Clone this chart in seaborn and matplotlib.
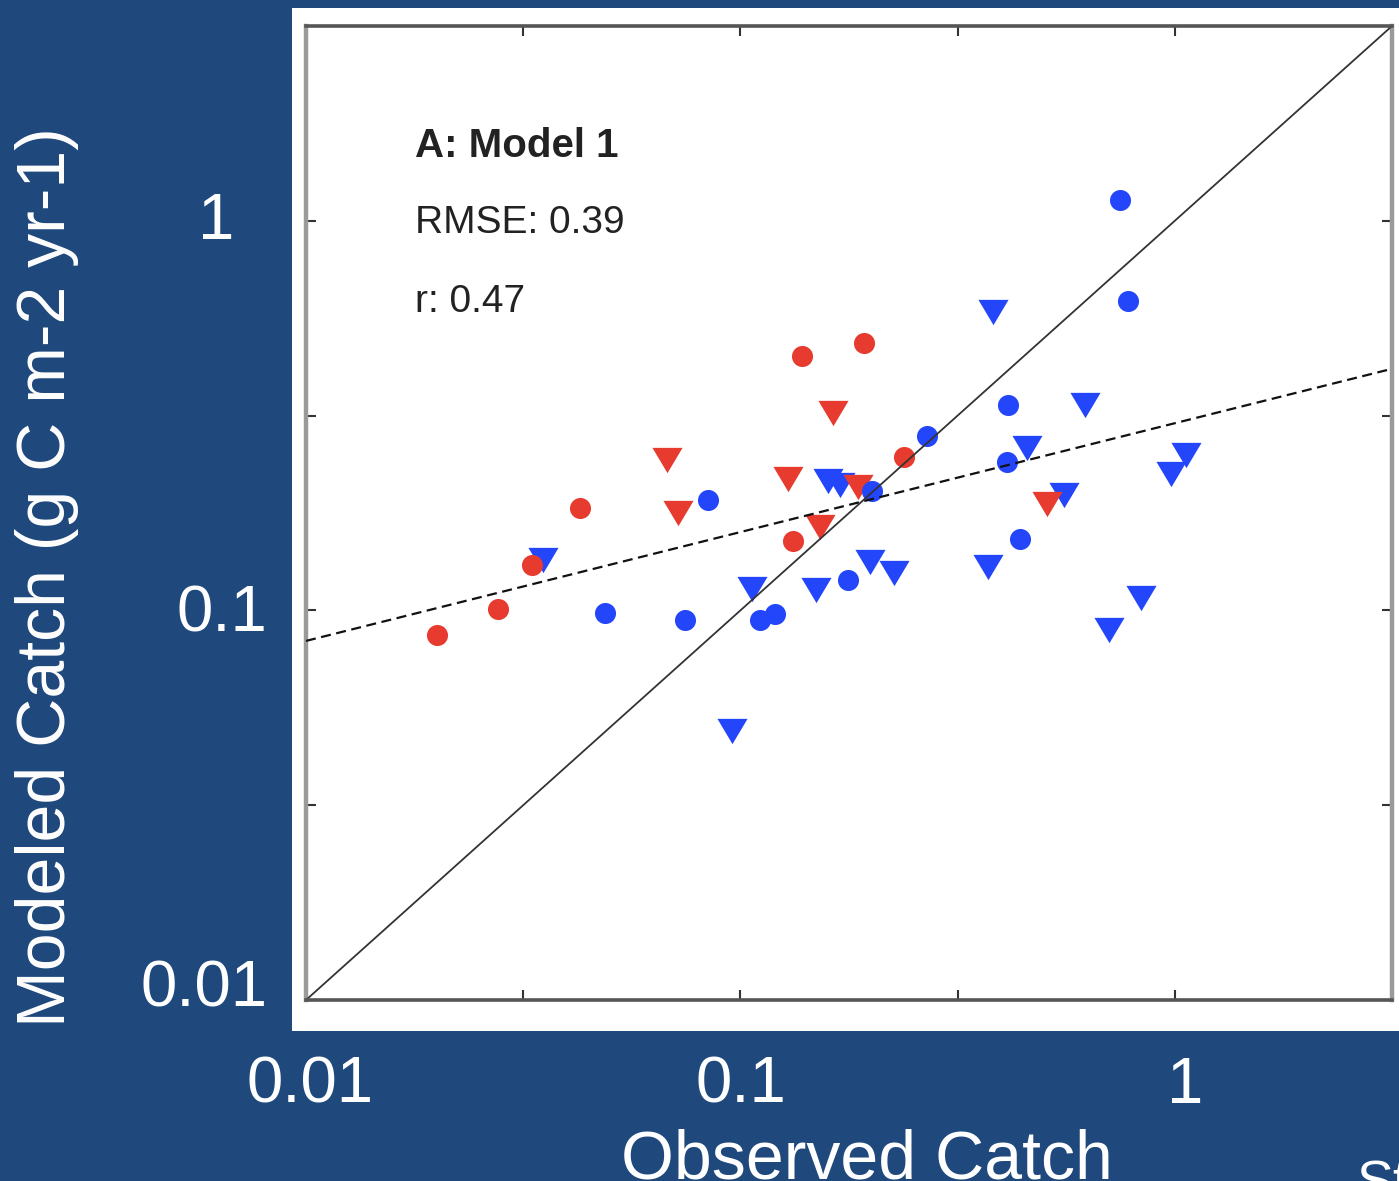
import numpy as np
import pandas as pd
import matplotlib
matplotlib.use("Agg")
import matplotlib.pyplot as plt
import matplotlib.transforms as mtransforms
import seaborn as sns
from matplotlib.patches import Rectangle
from matplotlib.ticker import FixedLocator, NullFormatter

# ---------------- data ----------------
red_circle_obs = [0.0200, 0.0277, 0.0331, 0.0427, 0.1322, 0.1386, 0.1925, 0.2379]
red_circle_mod = [0.0865, 0.1008, 0.1307, 0.1832, 0.1507, 0.4498, 0.4857, 0.2475]

red_tri_obs = [0.0678, 0.0719, 0.1287, 0.1633, 0.1525, 0.1865, 0.5078]
red_tri_mod = [0.2432, 0.1778, 0.2175, 0.3211, 0.1637, 0.2074, 0.1875]

blue_circle_obs = [0.0488, 0.0746, 0.0842, 0.1110, 0.1201, 0.1769, 0.2009,
                   0.2690, 0.4110, 0.4130, 0.4401, 0.7477, 0.7805]
blue_circle_mod = [0.0985, 0.0945, 0.1920, 0.0945, 0.0979, 0.1197, 0.2025,
                   0.2803, 0.2404, 0.3367, 0.1526, 1.131, 0.6224]

blue_tri_obs = [0.0351, 0.0957, 0.1063, 0.1493, 0.1591, 0.1696, 0.1988, 0.2258,
                0.3715, 0.3815, 0.4568, 0.5556, 0.6215, 0.7058, 0.8359, 0.9802, 1.061]
blue_tri_mod = [0.1347, 0.0490, 0.1135, 0.1128, 0.2149, 0.2099, 0.1331, 0.1247,
                0.1292, 0.5833, 0.2611, 0.1978, 0.3367, 0.0891, 0.1076, 0.2239, 0.2505]

one_to_one = [0.01, 10 ** 0.5]
fit_x = [0.01, 10 ** 0.5]
fit_y = [0.0835, 0.417]

tick_values = [0.01, 0.1, 1]
tick_labels = ["0.01", "0.1", "1"]
minor_values = [10 ** -1.5, 10 ** -0.5]

panel_title = "A: Model 1"
stats_lines = ["RMSE: 0.39", "r: 0.47"]
x_label = "Observed Catch"
y_label = "Modeled Catch (g C m-2 yr-1)"

# ---------------- style ----------------
sns.set_style("white")
plt.rcParams["font.family"] = ["Liberation Sans", "DejaVu Sans"]

BG = "#1f497d"
RED = "#e63b2e"
BLUE = "#2446fb"

W, H = 1399, 1181
fig = plt.figure(figsize=(W / 100, H / 100), dpi=100, facecolor=BG)

# white picture panel (behind the axes)
fig.patches.append(Rectangle((292 / W, 1 - 1031 / H), (W - 292) / W, (1031 - 8) / H,
                             transform=fig.transFigure, facecolor="white",
                             edgecolor="none", zorder=-5))

ax = fig.add_axes([306 / W, 1 - 1000 / H, 1086 / W, 974 / H])
ax.set_zorder(2)
ax.set_facecolor("white")

tri = [(-1, 0.84), (1, 0.84), (0, -0.84), (-1, 0.84)]

groups = [
    (blue_tri_obs, blue_tri_mod, BLUE, tri, 470),
    (red_tri_obs, red_tri_mod, RED, tri, 470),
    (red_circle_obs, red_circle_mod, RED, "o", 230),
    (blue_circle_obs, blue_circle_mod, BLUE, "o", 230),
]
for xs, ys, col, mk, sz in groups:
    df = pd.DataFrame({"obs": xs, "mod": ys})
    sns.scatterplot(data=df, x="obs", y="mod", color=col, marker=mk, s=sz,
                    linewidth=0, ax=ax, zorder=2)

ax.plot(one_to_one, one_to_one, color="#333333", lw=1.3, zorder=3)
ax.plot(fit_x, fit_y, color="#111111", lw=1.6, dashes=(4.5, 2.5), zorder=3)

ax.set_xscale("log")
ax.set_yscale("log")
ax.set_xlim(0.01, 10 ** 0.5)
ax.set_ylim(0.01, 10 ** 0.5)

for axis in (ax.xaxis, ax.yaxis):
    axis.set_major_locator(FixedLocator(tick_values))
    axis.set_minor_locator(FixedLocator(minor_values))
    axis.set_minor_formatter(NullFormatter())
ax.set_xticklabels(tick_labels)
ax.set_yticklabels(tick_labels)

ax.tick_params(which="both", direction="in", top=True, right=True,
               bottom=True, left=True,
               length=7, width=1.5, color="#333333",
               labelcolor="white", labelsize=47)
ax.tick_params(axis="x", which="major", pad=40)
ax.tick_params(axis="y", which="major", pad=28)

for side in ("left", "right"):
    ax.spines[side].set_color("#9a9a9a")
    ax.spines[side].set_linewidth(3.2)
for side in ("top", "bottom"):
    ax.spines[side].set_color("#555555")
    ax.spines[side].set_linewidth(2.6)
    ax.spines[side].set_zorder(4)

# small nudges of individual slide labels (pixels: dx, dy; +dy = up)
x_nudge = [(4, 0), (0, 0), (10, 0)]
y_nudge = [(0, 17), (0, 2), (-33, 5)]
for tick, (dx, dy) in zip(ax.xaxis.get_major_ticks(), x_nudge):
    lab = tick.label1
    lab.set_transform(lab.get_transform() +
                      mtransforms.ScaledTranslation(dx / 100, dy / 100, fig.dpi_scale_trans))
for tick, (dx, dy) in zip(ax.yaxis.get_major_ticks(), y_nudge):
    lab = tick.label1
    lab.set_transform(lab.get_transform() +
                      mtransforms.ScaledTranslation(dx / 100, dy / 100, fig.dpi_scale_trans))

ax.set_xlabel(x_label, color="white", fontsize=49)
ax.xaxis.label.set_verticalalignment("baseline")
ax.xaxis.set_label_coords(0.5166, -0.1828)

ax.set_ylabel(y_label, color="white", fontsize=49)
ax.yaxis.label.set_verticalalignment("center")
ax.yaxis.set_label_coords(-0.2385, 0.434)

ax.text(0.1004, 0.8655, panel_title, transform=ax.transAxes, fontsize=29,
        fontweight="bold", color="#222222", va="baseline", ha="left")
ax.text(0.1004, 0.7875, stats_lines[0], transform=ax.transAxes, fontsize=28,
        color="#222222", va="baseline", ha="left")
ax.text(0.1004, 0.7064, stats_lines[1], transform=ax.transAxes, fontsize=28,
        color="#222222", va="baseline", ha="left")

fig.text(1357 / W, 1 - 1160 / H, "St", color="white", fontsize=40,
         ha="left", va="top")

fig.savefig("out.png", dpi=100, facecolor=BG)
